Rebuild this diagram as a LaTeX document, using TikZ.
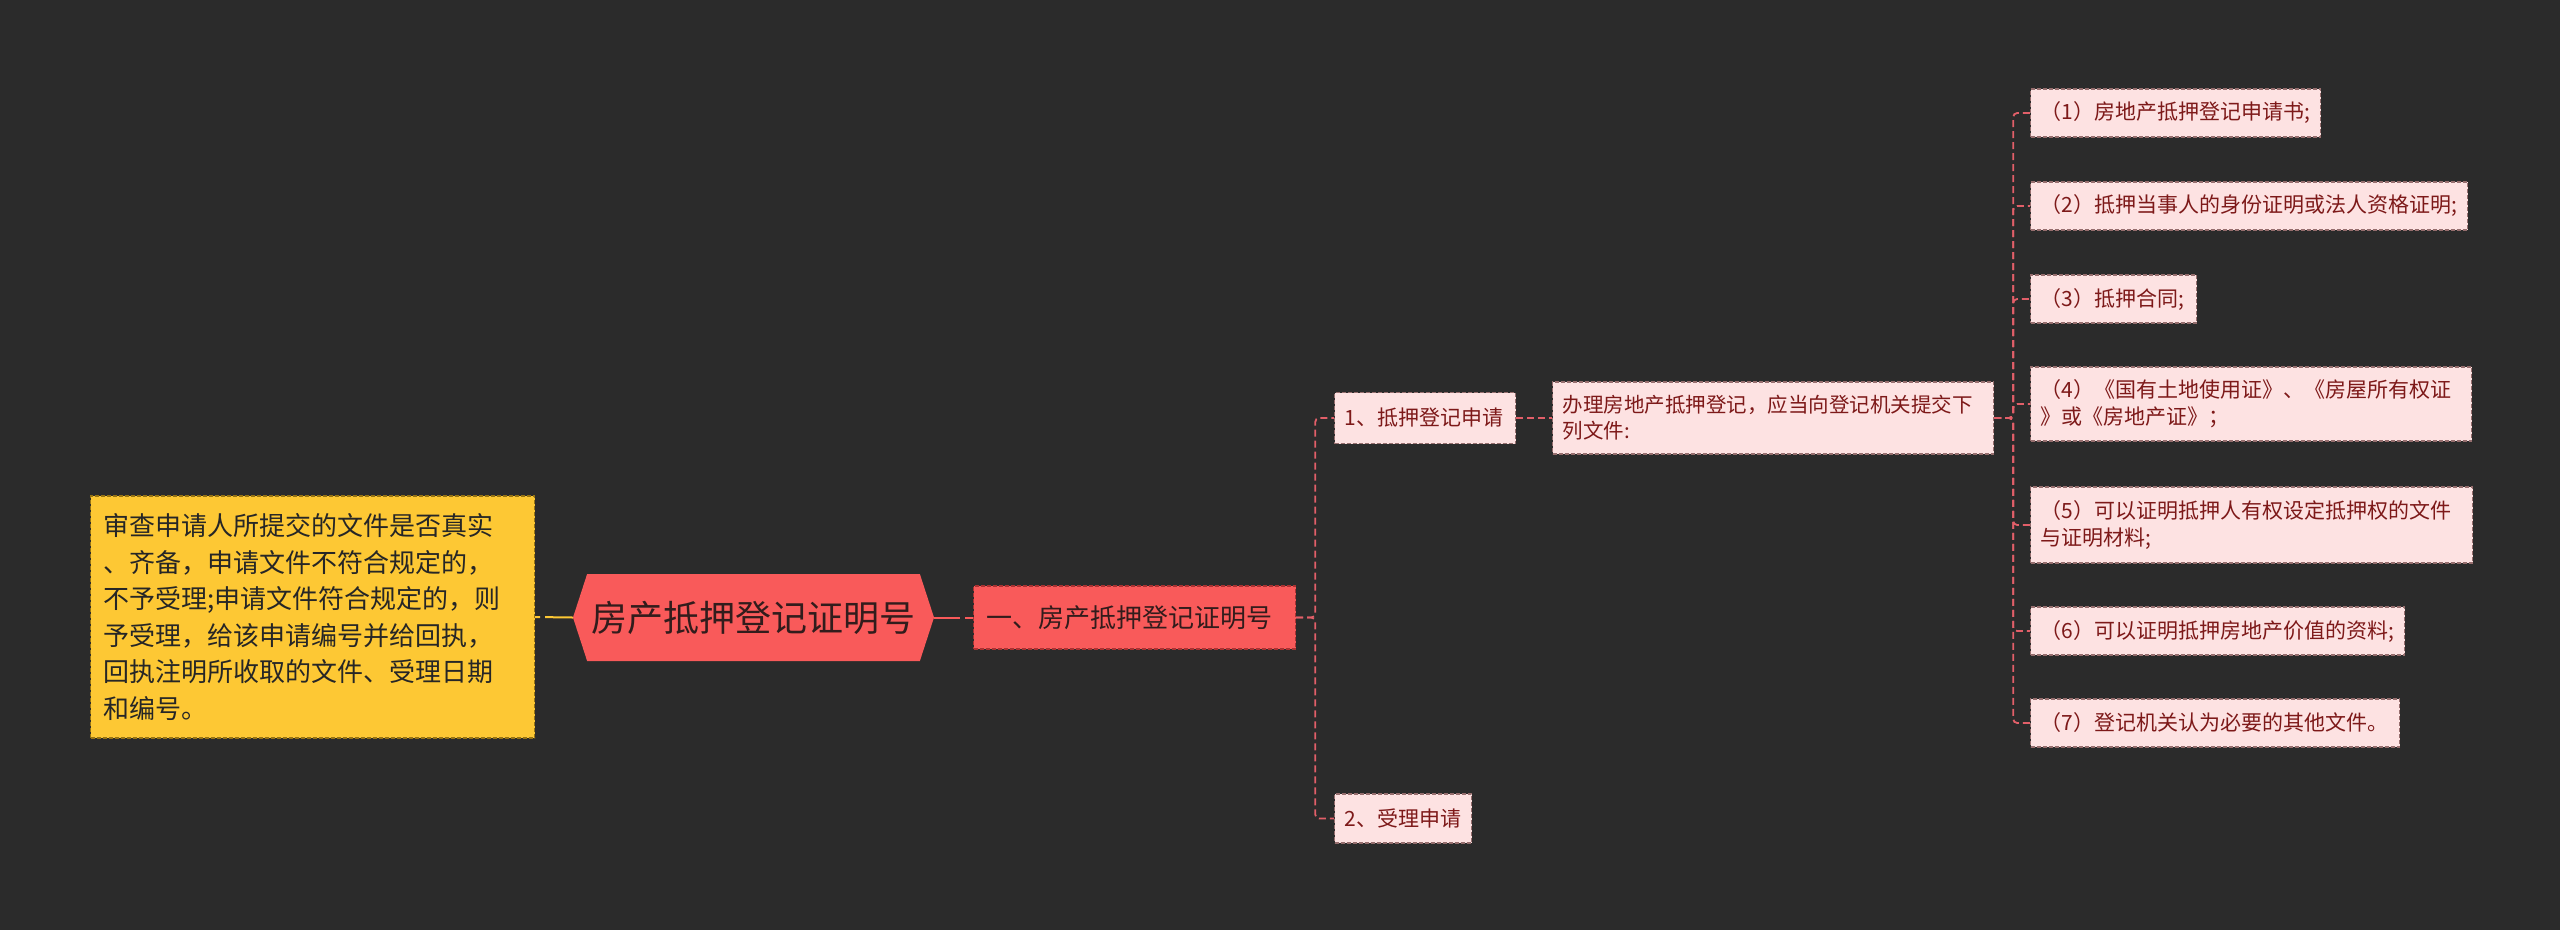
\documentclass[tikz,border=0pt]{standalone}
\usepackage{fontspec}
\setmainfont{Noto Sans CJK SC}
\usetikzlibrary{shapes.symbols}
\definecolor{bgc}{RGB}{43,43,43}
\definecolor{redc}{RGB}{249,90,90}
\definecolor{redborder}{RGB}{170,50,50}
\definecolor{pinkc}{RGB}{253,226,226}
\definecolor{pinkborder}{RGB}{150,110,110}
\definecolor{darkred}{RGB}{125,25,25}
\definecolor{yellowc}{RGB}{253,200,52}
\definecolor{yellowborder}{RGB}{150,115,20}
\definecolor{connred}{RGB}{226,95,105}
\definecolor{darktext}{RGB}{50,28,28}
\tikzset{
  boxbase/.style={anchor=west, align=left, dash pattern=on 4pt off 2pt, line width=1.2pt},
  leaf/.style={boxbase, fill=pinkc, draw=pinkborder, text=darkred, inner xsep=10pt, inner ysep=0pt,
    font=\fontsize{21}{27}\selectfont},
  sub/.style={boxbase, fill=pinkc, draw=pinkborder, text=darkred, inner xsep=10pt, inner ysep=0pt,
    font=\fontsize{21}{27}\selectfont},
  lvlone/.style={boxbase, fill=redc, draw=redborder, text=darktext, inner xsep=13pt, inner ysep=0pt,
    font=\fontsize{26}{32}\selectfont},
  yellowbox/.style={boxbase, fill=yellowc, draw=yellowborder, text=black!85, inner xsep=13pt, inner ysep=0pt,
    font=\fontsize{26}{36.5}\selectfont},
  hexnode/.style={shape=signal, signal to=west and east, signal pointer angle=144, fill=redc,
    text=darktext, minimum width=361pt, minimum height=87pt, inner sep=0pt,
    font=\fontsize{36}{40}\selectfont},
  conn/.style={draw=connred, line width=1.8pt, dash pattern=on 7pt off 4pt, rounded corners=4pt},
  redconn/.style={draw=redc, line width=2pt, dash pattern=on 26pt off 5pt},
  yconn/.style={draw=yellowc, line width=2pt, dash pattern=on 5pt off 5pt on 26pt off 0pt}
}
\begin{document}
\begin{tikzpicture}[x=1pt,y=-1pt]
\useasboundingbox[fill=bgc] (0,0) rectangle (2560,930);

\node[hexnode] (hex) at (753.5,617.5) {房产抵押登记证明号};
\node[yellowbox, text width=418pt, minimum height=242pt] (yb) at (90,617)
  {审查申请人所提交的文件是否真实\\、齐备，申请文件不符合规定的，\\不予受理;申请文件符合规定的，则\\予受理，给该申请编号并给回执，\\回执注明所收取的文件、受理日期\\和编号。};
\node[lvlone, text width=296pt, minimum height=63pt] (b1) at (973,617.5) {一、房产抵押登记证明号};
\node[sub, text width=161pt, minimum height=51pt] (c1) at (1334,418) {1、抵押登记申请};
\node[sub, text width=117pt, minimum height=49pt] (c2) at (1334,818.5) {2、受理申请};
\node[leaf, text width=421pt, minimum height=72pt, font=\fontsize{20.5}{26}\selectfont] (d) at (1552,418)
  {办理房地产抵押登记，应当向登记机关提交下\\列文件:};
\node[leaf, text width=270pt, minimum height=48pt] (i1) at (2030,113) {（1）房地产抵押登记申请书;};
\node[leaf, text width=417pt, minimum height=48pt] (i2) at (2030,206) {（2）抵押当事人的身份证明或法人资格证明;};
\node[leaf, text width=146pt, minimum height=48pt] (i3) at (2030,299) {（3）抵押合同;};
\node[leaf, text width=421pt, minimum height=74pt] (i4) at (2030,404) {（4）《国有土地使用证》、《房屋所有权证\\》或《房地产证》；};
\node[leaf, text width=422pt, minimum height=76pt] (i5) at (2030,525) {（5）可以证明抵押人有权设定抵押权的文件\\与证明材料;};
\node[leaf, text width=354pt, minimum height=48pt] (i6) at (2030,631) {（6）可以证明抵押房地产价值的资料;};
\node[leaf, text width=349pt, minimum height=48pt] (i7) at (2030,723) {（7）登记机关认为必要的其他文件。};

\draw[yconn] (yb.east) -- (hex.west);
\draw[redconn] (hex.east) -- (b1.west);
\draw[conn] (b1.east) -- ++(19,0) |- (c1.west);
\draw[conn] (b1.east) -- ++(19,0) |- (c2.west);
\draw[conn] (c1.east) -- (d.west);
\foreach \i in {i1,i2,i3,i4,i5,i6,i7}{
  \draw[conn] (d.east) -- ++(19,0) |- (\i.west);
}
\end{tikzpicture}
\end{document}
